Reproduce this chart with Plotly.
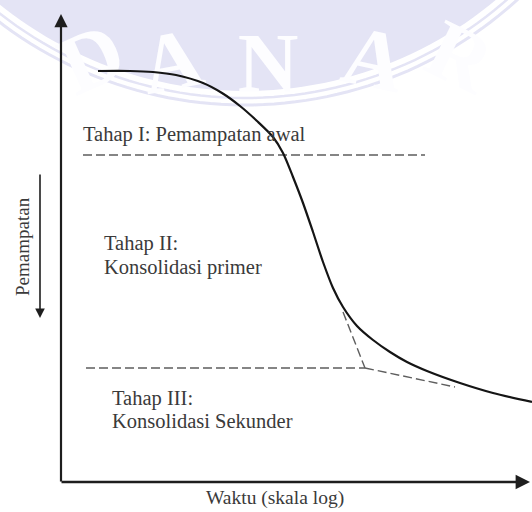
import numpy as np
import plotly.graph_objects as go

# ---- data (drawing coordinates: x = log time position, y = settlement depth) ----
curve_x = [98, 130, 153, 176, 203, 222, 240, 257, 273, 283, 293, 303, 313, 323, 333, 343, 357, 373, 390, 407, 427, 460, 493, 532]
curve_y = [71, 71, 72, 75, 83, 93, 106, 121, 137, 153, 177, 203, 232, 262, 288, 307, 326, 340, 352, 362, 371, 383, 393, 402]

stage1_line_x = [83, 425]
stage1_line_y = [155, 155]
stage3_line_x = [86, 365]
stage3_line_y = [368, 368]
tangent_primary_x = [343, 365]
tangent_primary_y = [312, 368]
tangent_secondary_x = [365, 455]
tangent_secondary_y = [368, 387]

y_axis_x = [61, 61]
y_axis_y = [483, 14]
x_axis_x = [60, 530]
x_axis_y = [482, 482]
settle_arrow_x = [40, 40]
settle_arrow_y = [173, 318]

label_texts = ["Tahap I: Pemampatan awal", "Tahap II:", "Konsolidasi primer", "Tahap III:", "Konsolidasi Sekunder"]
label_x = [81, 102, 102, 110, 110]
label_y = [134, 243, 267, 398, 421]
x_title = "Waktu (skala log)"
y_title = "Pemampatan"

wm_letters = ["D", "A", "N", "A", "R"]
wm_x = [88, 170, 268, 376, 464]
wm_y = [50, 52, 54, 50, 48]
wm_rot = [-24, -11, 0, 12, 26]

FONT = "Liberation Serif, Times New Roman, serif"
TXT = "#3a3a3a"
LAV = "#e4e4f5"

fig = go.Figure()

# ---- watermark (decorative ring, drawn beneath everything) ----
cx, cy = 245, -300
th = np.linspace(0, 2 * np.pi, 240)


def circle_path(r):
    pts = ["%s %.2f,%.2f" % ("M" if i == 0 else "L", cx + r * np.cos(t), cy + r * np.sin(t)) for i, t in enumerate(th)]
    return " ".join(pts) + " Z"


shapes = [dict(type="path", path=circle_path(391), xref="x", yref="y", fillcolor=LAV,
               line=dict(width=0), layer="below")]
for r, w in [(398, 2.5), (405, 3)]:
    shapes.append(dict(type="path", path=circle_path(r), xref="x", yref="y", fillcolor="rgba(0,0,0,0)",
                       line=dict(width=w, color=LAV), layer="below"))
for L, x, y, rot in zip(wm_letters, wm_x, wm_y, wm_rot):
    shapes.append(dict(type="rect", xref="x", yref="y", x0=x - 1, x1=x + 1, y0=y - 1, y1=y + 1,
                       line=dict(width=0), fillcolor="rgba(0,0,0,0)", layer="below",
                       label=dict(text=L, textangle=rot, textposition="middle center",
                                  font=dict(family=FONT, size=84, color="#fdfdff", weight="bold"))))

annotations = []

# ---- dashed construction lines ----
for xs, ys in [(stage1_line_x, stage1_line_y), (stage3_line_x, stage3_line_y),
               (tangent_primary_x, tangent_primary_y), (tangent_secondary_x, tangent_secondary_y)]:
    fig.add_trace(go.Scatter(x=xs, y=ys, mode="lines", line=dict(color="#5e5e5e", width=1.4, dash="9px,4px"),
                             hoverinfo="skip", showlegend=False))

# ---- consolidation curve ----
fig.add_trace(go.Scatter(x=curve_x, y=curve_y, mode="lines",
                         line=dict(color="#151515", width=2.2, shape="spline", smoothing=0.8),
                         hoverinfo="skip", showlegend=False))

# ---- axes with arrowheads ----
for xs, ys, w in [(y_axis_x, y_axis_y, 2.2), (x_axis_x, x_axis_y, 2.4), (settle_arrow_x, settle_arrow_y, 1.6)]:
    annotations.append(dict(x=xs[1], y=ys[1], ax=xs[0], ay=ys[0], xref="x", yref="y", axref="x", ayref="y",
                            text="", showarrow=True, arrowhead=2, arrowsize=1.2, arrowwidth=w, arrowcolor="#1e1e1e"))

for t, x, y in zip(label_texts, label_x, label_y):
    annotations.append(dict(x=x, y=y, xref="x", yref="y", text=t, showarrow=False, xanchor="left", yanchor="middle",
                            font=dict(family=FONT, size=20.5, color=TXT)))

annotations.append(dict(x=275, y=511, xref="x", yref="y", text=x_title, showarrow=False, yanchor="bottom",
                        font=dict(family=FONT, size=19.5, color=TXT)))
annotations.append(dict(x=22, y=247, xref="x", yref="y", text=y_title, showarrow=False, textangle=-90,
                        font=dict(family=FONT, size=19, color=TXT)))

fig.update_layout(
    width=532, height=512, margin=dict(l=0, r=0, t=0, b=0),
    paper_bgcolor="white", plot_bgcolor="white",
    xaxis=dict(range=[0, 532], visible=False, fixedrange=True),
    yaxis=dict(range=[512, 0], visible=False, fixedrange=True),
    shapes=shapes, annotations=annotations, showlegend=False,
)

fig.write_html("out.html")
